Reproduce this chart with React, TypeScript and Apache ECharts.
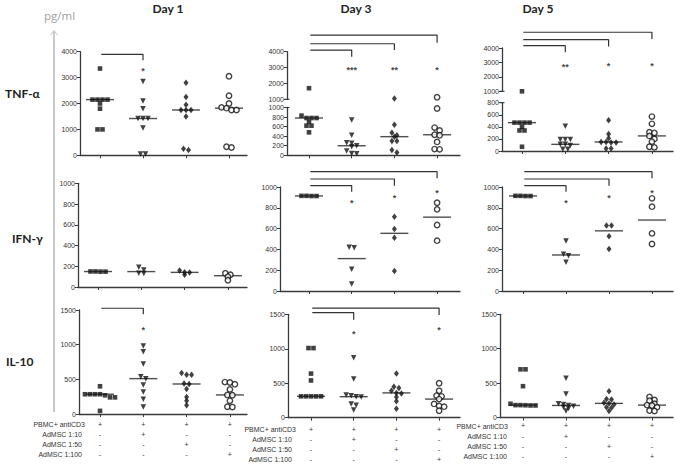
import React, { useEffect, useRef } from "react";
import * as echarts from "echarts";

// ---------- text ----------
const days = ["Day 1", "Day 3", "Day 5"];
const cytokines = ["TNF-α", "IFN-γ", "IL-10"];
const unitLabel = "pg/ml";
const tableRowNames = ["PBMC+ antiCD3", "AdMSC 1:10", "AdMSC 1:50", "AdMSC 1:100"];
// tableSigns[row][group]
const tableSigns = [
  ["+", "+", "+", "+"],
  ["-", "+", "-", "-"],
  ["-", "-", "+", "-"],
  ["-", "-", "-", "+"],
];

// ---------- tick labels ----------
const tnfTicks = [0, 1000, 2000, 3000, 4000];
const tnfUpperTicks = [1000, 2000, 3000, 4000];
const tnfDay3LowerTicks = [0, 200, 400, 600, 800, 1000];
const tnfDay5LowerTicks = [0, 200, 400, 600, 800];
const ifnTicks = [0, 200, 400, 600, 800, 1000];
const il10Ticks = [0, 500, 1000, 1500];

// ---------- values (pg/ml), one list per group ----------
const tnfDay1 = [
  [3350, 2150, 2150, 2150, 2150, 2000, 1800, 1000, 1000],
  [2850, 2100, 1800, 1420, 1420, 1420, 1050, 50, 50],
  [2800, 2250, 1950, 1750, 1750, 1750, 1500, 250, 200],
  [3050, 2300, 2000, 1850, 1820, 1750, 1750, 330, 300],
];
const tnfDay3 = [
  [1700, 830, 780, 780, 780, 700, 620, 620, 480],
  [740, 420, 260, 250, 200, 180, 90, 40, 30],
  [1050, 640, 470, 420, 390, 300, 300, 110, 60],
  [1130, 980, 580, 520, 430, 420, 280, 130, 125],
];
const tnfDay5 = [
  [1000, 470, 470, 470, 470, 400, 340, 340, 70],
  [410, 190, 190, 190, 110, 110, 90, 30, 30],
  [510, 280, 210, 150, 150, 140, 140, 40, 40],
  [570, 450, 310, 300, 250, 200, 155, 70, 60],
];
const ifnDay1 = [
  [150, 150, 148, 148],
  [190, 165, 132, 130],
  [160, 142, 140, 118],
  [132, 118, 100, 65],
];
const ifnDay3 = [
  [915, 915, 913, 913],
  [420, 415, 208, 67],
  [715, 596, 513, 192],
  [849, 785, 635, 484],
];
const ifnDay5 = [
  [915, 915, 913, 913],
  [481, 353, 340, 276],
  [631, 631, 526, 404],
  [891, 811, 554, 452],
];
const il10Day1 = [
  [400, 285, 285, 285, 285, 270, 240, 240, 45],
  [981, 899, 721, 538, 510, 418, 317, 212, 101],
  [590, 565, 565, 440, 433, 360, 245, 190, 125],
  [460, 455, 430, 355, 275, 270, 190, 105, 100],
];
const il10Day3 = [
  [1010, 1010, 640, 540, 310, 310, 310, 310, 310],
  [870, 560, 330, 320, 305, 300, 200, 180, 110],
  [640, 450, 430, 390, 360, 350, 300, 240, 130],
  [500, 390, 320, 310, 270, 200, 170, 160, 100],
];
const il10Day5 = [
  [700, 700, 455, 200, 180, 180, 178, 175, 175],
  [570, 340, 200, 190, 175, 165, 150, 130, 95],
  [380, 270, 260, 215, 205, 190, 150, 140, 95],
  [300, 255, 245, 200, 180, 175, 150, 100, 95],
];

// ---------- significance: [to group, bracket level, drop end] and [group, level, text] ----------
const tnfDay1Brackets = [[1, 3900, 3670]];
const tnfDay3Brackets = [[1, 4100, 3680], [2, 4500, 4100], [3, 5050, 4560]];
const tnfDay5Brackets = [[1, 4160, 3700], [2, 4580, 4100], [3, 5090, 4630]];
const ifnDay3Brackets = [[1, 1013, 955], [2, 1077, 1013], [3, 1147, 1083]];
const ifnDay5Brackets = [[1, 1013, 955], [2, 1077, 1013], [3, 1147, 1083]];
const il10Day1Brackets = [[1, 1525, 1440]];
const il10Day3Brackets = [[1, 1525, 1420], [3, 1590, 1490]];

const tnfDay1Stars: [number, number, string][] = [[1, 3370, "*"]];
const tnfDay3Stars: [number, number, string][] = [[1, 3000, "***"], [2, 3000, "**"], [3, 3000, "*"]];
const tnfDay5Stars: [number, number, string][] = [[1, 2850, "**"], [2, 2940, "*"], [3, 2940, "*"]];
const ifnDay3Stars: [number, number, string][] = [[1, 875, "*"], [2, 923, "*"], [3, 971, "*"]];
const ifnDay5Stars: [number, number, string][] = [[1, 875, "*"], [2, 923, "*"], [3, 971, "*"]];
const il10Day1Stars: [number, number, string][] = [[1, 1250, "*"]];
const il10Day3Stars: [number, number, string][] = [[1, 1250, "*"], [3, 1307, "*"]];

// ---------- panels ----------
const panels: any[] = [
  { values: tnfDay1, ticks: tnfTicks, brackets: tnfDay1Brackets, stars: tnfDay1Stars },
  { values: tnfDay3, ticks: tnfDay3LowerTicks, upperTicks: tnfUpperTicks, brackets: tnfDay3Brackets, stars: tnfDay3Stars },
  { values: tnfDay5, ticks: tnfDay5LowerTicks, upperTicks: tnfUpperTicks, brackets: tnfDay5Brackets, stars: tnfDay5Stars },
  { values: ifnDay1, ticks: ifnTicks, brackets: [], stars: [] },
  { values: ifnDay3, ticks: ifnTicks, brackets: ifnDay3Brackets, stars: ifnDay3Stars },
  { values: ifnDay5, ticks: ifnTicks, brackets: ifnDay5Brackets, stars: ifnDay5Stars },
  { values: il10Day1, ticks: il10Ticks, brackets: il10Day1Brackets, stars: il10Day1Stars, table: true },
  { values: il10Day3, ticks: il10Ticks, brackets: il10Day3Brackets, stars: il10Day3Stars, table: true },
  { values: il10Day5, ticks: il10Ticks, brackets: [], stars: [], table: true },
];

// layout (pixels)
const layouts: any[] = [
  { axisX: 80, cat0X: 100, step: 43, rightX: 247, top: 51.7, bottom: 155.3 },
  { axisX: 287, cat0X: 309, step: 42.7, rightX: 460, top: 107.5, bottom: 155.3, upperTop: 51.7, upperBottom: 99.3 },
  { axisX: 502, cat0X: 522, step: 43.3, rightX: 673, top: 102.7, bottom: 151, upperTop: 48, upperBottom: 91.3 },
  { axisX: 78, cat0X: 98, step: 43.3, rightX: 247, top: 183.3, bottom: 287 },
  { axisX: 280, cat0X: 309, step: 42.7, rightX: 460, top: 187, bottom: 291 },
  { axisX: 502, cat0X: 523, step: 43, rightX: 673, top: 187, bottom: 291 },
  { axisX: 79, cat0X: 100, step: 43.3, rightX: 247, top: 310, bottom: 414, tableMargin: 6, rowGap: 9.8, nameRight: [85, 82, 82, 82] },
  { axisX: 288, cat0X: 311, step: 42.7, rightX: 460, top: 314.3, bottom: 417.7, tableMargin: 6.3, rowGap: 10, nameRight: [296, 292, 292, 292] },
  { axisX: 500, cat0X: 523, step: 43, rightX: 673, top: 314.3, bottom: 417.5, tableMargin: 3.4, rowGap: 10.2, nameRight: [508, 507, 507, 507] },
];

const FONT = "'Liberation Sans', Arial, sans-serif";
const TITLE_FONT = "Lato, 'Open Sans', sans-serif";
const AXIS = "#3a3a3a";
const INK = "#111";

const groupStyles = [
  { symbol: "rect", symbolSize: 4.6, symbolRotate: 0, itemStyle: { color: INK } },
  { symbol: "triangle", symbolSize: 5.5, symbolRotate: 180, itemStyle: { color: INK } },
  { symbol: "diamond", symbolSize: [5, 6.5], symbolRotate: 0, itemStyle: { color: INK } },
  { symbol: "circle", symbolSize: 5.4, symbolRotate: 0, itemStyle: { color: "#fff", borderColor: INK, borderWidth: 1.4 } },
];

function median(a: number[]) {
  const s = [...a].sort((x, y) => x - y);
  const n = s.length;
  return n % 2 ? s[(n - 1) / 2] : (s[n / 2 - 1] + s[n / 2]) / 2;
}

// centred rows of near-equal values (GraphPad style scatter)
function swarm(vals: number[], pxPerUnit: number, catStepPx: number) {
  const sorted = [...vals].sort((a, b) => b - a);
  const out: [number, number][] = [];
  const SPACE = 5;
  const TOL = 3.2;
  let i = 0;
  while (i < sorted.length) {
    let j = i;
    while (j + 1 < sorted.length && (sorted[i] - sorted[j + 1]) * pxPerUnit < TOL) j++;
    const n = j - i + 1;
    for (let k = 0; k < n; k++) out.push([((k - (n - 1) / 2) * SPACE) / catStepPx, sorted[i + k]]);
    i = j + 1;
  }
  return out;
}

function buildOption() {
  const grid: any[] = [];
  const xAxis: any[] = [];
  const yAxis: any[] = [];
  const series: any[] = [];
  const graphic: any[] = [];

  const addGrid = (l: any, top: number, bottom: number, ticks: number[], showX: boolean, table: boolean) => {
    const gi = grid.length;
    grid.push({ left: l.axisX, top, width: l.rightX - l.axisX, height: bottom - top, containLabel: false });
    xAxis.push({
      gridIndex: gi,
      type: "value",
      min: -(l.cat0X - l.axisX) / l.step,
      max: (l.rightX - l.cat0X) / l.step,
      show: showX,
      axisLine: { show: true, onZero: false, lineStyle: { color: AXIS, width: 1.3 } },
      axisTick: { show: true, customValues: [0, 1, 2, 3], length: 3, lineStyle: { color: AXIS, width: 1 } },
      axisLabel: table
        ? {
            show: true,
            customValues: [0, 1, 2, 3],
            margin: l.tableMargin,
            fontSize: 7,
            lineHeight: l.rowGap,
            color: "#333",
            fontFamily: FONT,
            formatter: (v: number) => tableSigns.map((r) => r[Math.round(v)]).join("\n"),
          }
        : { show: false },
      splitLine: { show: false },
    });
    yAxis.push({
      gridIndex: gi,
      type: "value",
      min: ticks[0],
      max: ticks[ticks.length - 1],
      interval: ticks[1] - ticks[0],
      axisLine: { show: true, onZero: false, lineStyle: { color: AXIS, width: 1.3 } },
      axisTick: { show: true, length: 3, lineStyle: { color: AXIS, width: 1 } },
      axisLabel: { fontSize: 7, margin: 3, color: "#333", fontFamily: FONT, formatter: (v: number) => String(v) },
      splitLine: { show: false },
    });
    return { gi, pxPerUnit: (bottom - top) / (ticks[ticks.length - 1] - ticks[0]) };
  };

  panels.forEach((p, pi) => {
    const l = layouts[pi];
    const main = addGrid(l, l.top, l.bottom, p.ticks, true, !!p.table);
    const upper = p.upperTicks ? addGrid(l, l.upperTop, l.upperBottom, p.upperTicks, false, false) : null;
    const lowerMax = p.ticks[p.ticks.length - 1];
    const annot = upper || main;

    if (upper) {
      // break caps at the axis gap
      [l.upperBottom, l.top].forEach((yy: number) =>
        graphic.push({
          type: "line",
          silent: true,
          shape: { x1: l.axisX - 2.5, y1: yy, x2: l.axisX + 2.5, y2: yy },
          style: { stroke: AXIS, lineWidth: 1.1 },
        })
      );
    }

    p.values.forEach((vals: number[], g: number) => {
      const st = groupStyles[g];
      const parts: [any, number[]][] = upper
        ? [
            [main, vals.filter((v) => v <= lowerMax)],
            [upper, vals.filter((v) => v > lowerMax)],
          ]
        : [[main, vals]];
      parts.forEach(([target, vs]) => {
        if (!vs.length) return;
        series.push({
          type: "scatter",
          xAxisIndex: target.gi,
          yAxisIndex: target.gi,
          clip: false,
          silent: true,
          z: 3,
          symbol: st.symbol,
          symbolSize: st.symbolSize,
          symbolRotate: st.symbolRotate,
          itemStyle: st.itemStyle,
          data: swarm(vs, target.pxPerUnit, l.step).map(([dx, v]) => [g + dx, v]),
        });
      });
    });

    // medians
    series.push({
      type: "scatter",
      xAxisIndex: main.gi,
      yAxisIndex: main.gi,
      clip: false,
      silent: true,
      z: 2,
      symbol: "rect",
      symbolSize: [28, 1.4],
      itemStyle: { color: "#222" },
      data: p.values.map((vals: number[], g: number) => [g, median(vals)]),
    });

    // brackets
    p.brackets.forEach(([to, level, drop]: number[]) => {
      series.push({
        type: "line",
        xAxisIndex: annot.gi,
        yAxisIndex: annot.gi,
        clip: false,
        silent: true,
        symbol: "none",
        lineStyle: { color: "#333", width: 1.2 },
        data: [
          [0.03, level],
          [to, level],
          [to, drop],
        ],
      });
    });

    // stars
    if (p.stars.length) {
      series.push({
        type: "scatter",
        xAxisIndex: annot.gi,
        yAxisIndex: annot.gi,
        clip: false,
        silent: true,
        symbolSize: 0,
        itemStyle: { color: "rgba(0,0,0,0)" },
        label: {
          show: true,
          formatter: "{b}",
          position: "inside",
          fontSize: 9,
          fontWeight: "bold",
          color: "#111",
          fontFamily: FONT,
          offset: [0, 2.5],
        },
        data: p.stars.map(([g, v, t]: [number, number, string]) => ({ name: t, value: [g, v] })),
      });
    }

    // table row names
    if (p.table) {
      tableRowNames.forEach((name, r) => {
        graphic.push({
          type: "text",
          x: l.nameRight[r],
          y: l.bottom + l.tableMargin + l.rowGap / 2 + r * l.rowGap,
          silent: true,
          style: { text: name, fontSize: 7, fontFamily: FONT, fill: "#333", align: "right", verticalAlign: "middle" },
        });
      });
    }
  });

  const dayX = [168, 356, 538];
  days.forEach((d, i) =>
    graphic.push({
      type: "text",
      x: dayX[i],
      y: 8,
      silent: true,
      style: { text: d, fontSize: 12, fontWeight: "bold", fontFamily: TITLE_FONT, fill: "#222", align: "center", verticalAlign: "middle" },
    })
  );
  const cytoPos = [
    [5, 93],
    [12, 238],
    [6, 361],
  ];
  cytokines.forEach((c, i) =>
    graphic.push({
      type: "text",
      x: cytoPos[i][0],
      y: cytoPos[i][1],
      silent: true,
      style: { text: c, fontSize: 12, fontWeight: "bold", fontFamily: TITLE_FONT, fill: "#222", align: "left", verticalAlign: "middle" },
    })
  );
  graphic.push({
    type: "text",
    x: 44,
    y: 15,
    silent: true,
    style: { text: unitLabel, fontSize: 11.5, fontFamily: "'Open Sans', sans-serif", fill: "#a0a0a0", align: "left", verticalAlign: "middle" },
  });
  graphic.push({ type: "line", silent: true, shape: { x1: 54, y1: 31, x2: 54, y2: 412 }, style: { stroke: "#c8c8c8", lineWidth: 2 } });
  graphic.push({
    type: "polyline",
    silent: true,
    shape: { points: [[50.5, 35], [54, 30.5], [57.5, 35]] },
    style: { stroke: "#c8c8c8", lineWidth: 1, fill: "none" },
  });

  return { animation: false, backgroundColor: "#fff", grid, xAxis, yAxis, series, graphic };
}

export default function App() {
  const ref = useRef<HTMLDivElement>(null);
  useEffect(() => {
    const chart = echarts.init(ref.current!, undefined, { renderer: "svg" });
    chart.setOption(buildOption() as any);
    return () => chart.dispose();
  }, []);
  return <div ref={ref} style={{ position: "fixed", left: 0, top: 0, width: 675, height: 464, background: "#fff" }} />;
}
